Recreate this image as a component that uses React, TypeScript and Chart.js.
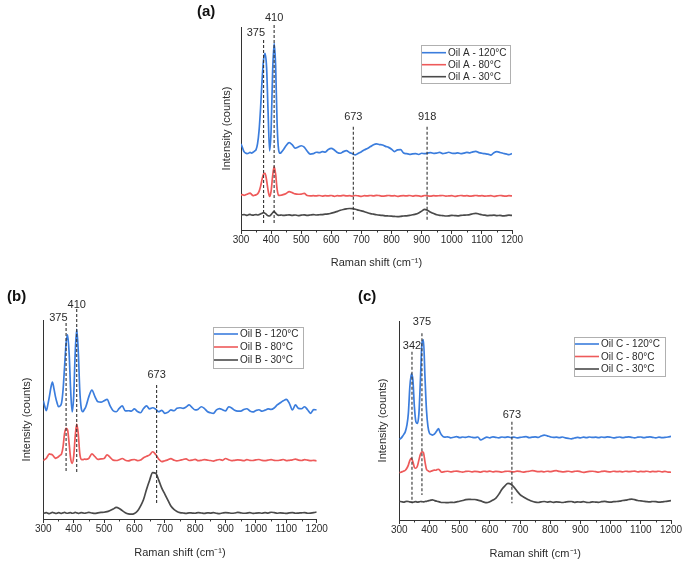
import React, { useEffect, useRef } from "react";
import { Chart, registerables } from "chart.js";

Chart.register(...registerables);

const FONT = '"Liberation Sans", Arial, Helvetica, sans-serif';
const TEXT = "#2b2b2b";
const AXIS = "#333333";
const BLUE = "#3b7ddd";
const RED = "#ee5a5a";
const DARK = "#4a4a4a";

// Raman shift (cm-1) sample positions shared by all spectra
const RAMAN_SHIFT = [
  300, 305, 310, 315, 320, 325, 330, 335, 340, 345, 350, 355, 360, 365, 370, 375, 380, 385, 390, 395, 400, 405, 410, 415, 420, 425, 430, 435, 440,
  450, 460, 470, 480, 490, 500, 510, 520, 530, 540,
  550, 560, 570, 580, 590, 600, 610, 620, 630, 640,
  650, 660, 670, 680, 690, 700, 710, 720, 730, 740,
  750, 760, 770, 780, 790, 800, 810, 820, 830, 840,
  850, 860, 870, 880, 890, 900, 910, 920, 930, 940,
  950, 960, 970, 980, 990, 1000, 1010, 1020, 1030, 1040,
  1050, 1060, 1070, 1080, 1090, 1100, 1110, 1120, 1130, 1140,
  1150, 1160, 1170, 1180, 1190, 1200,
];

const X_TICKS = [300, 400, 500, 600, 700, 800, 900, 1000, 1100, 1200];
const X_MINOR_TICKS = [350, 450, 550, 650, 750, 850, 950, 1050, 1150];

// ---------- Oil A ----------
const OIL_A_120 = [
  42.4, 40.5, 38.6, 37.9, 37.6, 37.8, 38.2, 37.9, 38.3, 38.9, 39.6, 42.5, 49.0, 60.0, 74.0, 84.0, 87.0, 80.0, 58.0, 39.0, 49.0, 78.0, 92.0, 81.0, 52.0, 39.5, 37.8, 38.5, 39.4,
  41.6, 43.0, 42.0, 40.3, 40.9, 41.5, 40.8, 38.8, 37.4, 37.6,
  38.3, 38.1, 38.6, 38.4, 39.7, 40.2, 39.4, 38.2, 37.8, 38.6,
  39.1, 38.2, 37.6, 37.0, 37.8, 38.6, 39.5, 40.2, 41.1, 42.0,
  42.4, 42.1, 41.9, 41.2, 40.7, 39.8, 38.6, 39.5, 39.6, 37.9,
  37.6, 37.3, 37.5, 37.6, 37.2, 37.8, 37.6, 37.9, 38.1, 37.7,
  37.9, 38.2, 37.6, 37.9, 38.3, 37.8, 37.7, 38.0, 37.6, 37.9,
  38.2, 38.0, 38.5, 38.7, 38.1, 37.8, 37.6, 37.4, 36.9, 38.1,
  38.6, 38.2, 37.8, 37.5, 37.1, 37.6,
];
const OIL_A_80 = [
  17.2, 17.4, 17.1, 17.3, 17.6, 18.0, 18.2, 17.6, 16.9, 17.1, 17.3, 17.8, 19.0, 21.5, 25.0, 27.6, 27.9, 24.5, 19.5, 16.5, 19.2, 26.5, 31.2, 27.5, 20.0, 17.0, 17.1, 17.2, 17.4,
  18.0, 18.9, 18.4, 17.8, 17.6, 17.7, 18.0, 17.0, 16.8, 16.9,
  16.8, 17.0, 16.7, 16.9, 16.8, 17.0, 16.6, 16.9, 16.8, 17.1,
  16.8, 16.9, 16.7, 17.0, 16.8, 16.6, 16.9, 16.8, 17.0, 16.8,
  17.1, 16.9, 16.7, 16.8, 17.0, 16.8, 16.9, 16.6, 16.8, 16.9,
  16.8, 17.0, 16.7, 16.9, 16.8, 16.6, 17.0, 16.8, 16.7, 16.9,
  16.8, 16.9, 17.0, 16.7, 16.8, 16.9, 16.6, 16.8, 17.0, 16.8,
  16.9, 16.7, 16.8, 17.0, 16.8, 16.9, 16.7, 16.8, 16.9, 16.6,
  16.8, 17.0, 16.8, 16.7, 16.9, 16.8,
];
const OIL_A_30 = [
  7.3, 7.5, 7.6, 7.4, 7.2, 7.5, 7.7, 7.4, 7.3, 7.5, 7.6, 7.4, 7.6, 7.9, 8.3, 8.6, 8.2, 7.6, 7.0, 6.9, 7.6, 8.5, 9.1, 8.3, 7.6, 7.2, 7.3, 7.4, 7.2,
  7.3, 7.5, 7.2, 7.4, 7.1, 7.3, 7.5, 7.2, 7.4, 7.6,
  7.4, 7.5, 7.6, 7.8, 7.9, 8.3, 8.7, 9.2, 9.7, 10.1,
  10.4, 10.6, 10.5, 10.2, 9.8, 9.4, 9.0, 8.5, 8.1, 7.8,
  7.5, 7.3, 7.2, 7.0, 6.9, 6.8, 6.7, 6.6, 6.7, 6.9,
  7.0, 7.2, 7.5, 7.8, 8.4, 9.3, 10.2, 9.6, 8.8, 8.1,
  7.5, 7.2, 7.1, 6.9, 7.0, 7.2, 7.1, 7.0, 7.2, 7.3,
  7.4, 7.6, 8.0, 8.2, 7.9, 7.5, 7.3, 7.1, 7.2, 7.3,
  7.1, 7.2, 7.0, 7.1, 7.3, 7.2,
];

// ---------- Oil B ----------
const OIL_B_120 = [
  59.5, 56.5, 54.5, 57.5, 61.5, 66.0, 68.8, 65.5, 61.5, 58.5, 56.5, 56.8, 58.2, 64.8, 76.5, 88.3, 92.5, 83.4, 64.8, 53.9, 61.5, 83.3, 95.3, 84.9, 64.8, 55.6, 53.9, 55.0, 56.4,
  61.5, 64.8, 61.5, 58.9, 58.7, 59.4, 60.1, 56.8, 54.4, 53.9,
  55.6, 56.8, 54.3, 54.4, 54.2, 55.3, 54.0, 53.4, 55.5, 56.8,
  55.3, 55.9, 55.2, 53.9, 54.6, 53.1, 53.6, 54.8, 54.4, 55.6,
  55.9, 55.6, 56.3, 57.3, 56.0, 54.8, 55.2, 56.4, 55.6, 54.0,
  53.4, 53.1, 54.8, 55.5, 54.9, 54.3, 56.4, 55.8, 54.6, 54.2,
  54.2, 55.0, 55.4, 54.3, 53.8, 54.5, 54.9, 54.2, 54.7, 55.3,
  55.1, 55.8, 57.3, 58.4, 59.4, 60.1, 58.1, 54.8, 57.3, 55.6,
  55.4, 56.4, 54.9, 53.1, 55.0, 54.8,
];
const OIL_B_80 = [
  29.3, 30.0, 30.5, 31.8, 32.7, 32.5, 32.2, 31.3, 30.5, 30.8, 31.3, 32.0, 32.7, 36.3, 43.0, 45.6, 44.7, 38.0, 30.5, 28.0, 31.3, 41.4, 47.7, 43.0, 33.0, 30.0, 29.8, 30.1, 30.0,
  30.5, 32.7, 31.3, 30.0, 30.2, 30.4, 32.2, 31.0, 29.6, 29.4,
  29.8, 30.4, 29.5, 29.2, 29.7, 29.9, 29.3, 29.6, 30.8, 31.5,
  32.2, 33.8, 32.4, 30.1, 28.8, 29.3, 29.7, 30.3, 29.6, 29.2,
  29.5, 29.9, 30.2, 29.4, 29.6, 30.0, 29.3, 29.5, 29.8, 29.6,
  29.4, 29.1, 29.6, 29.9, 29.5, 30.4, 29.8, 29.3, 29.5, 29.7,
  29.6, 29.3, 29.8, 29.5, 29.4, 29.7, 29.9, 29.5, 29.3, 29.6,
  29.8, 29.5, 29.4, 29.6, 29.9, 29.3, 29.5, 29.7, 30.1, 29.6,
  29.4, 29.8, 29.6, 29.3, 29.5, 29.2,
];
const OIL_B_30 = [
  2.8, 3.0, 3.2, 2.9, 2.7, 3.0, 3.3, 3.1, 2.8, 2.9, 3.2, 3.0, 2.8, 3.1, 3.3, 3.0, 2.9, 3.1, 3.2, 2.9, 3.0, 3.3, 3.1, 2.8, 3.0, 3.2, 3.1, 2.9, 3.0,
  3.3, 3.0, 2.8, 3.1, 3.3, 3.4, 3.7, 4.3, 5.0, 5.8,
  5.3, 4.2, 3.2, 2.6, 2.4, 2.8, 4.0, 6.5, 9.8, 15.0,
  19.5, 23.3, 23.0, 19.5, 15.5, 12.5, 9.5, 6.5, 4.8, 3.8,
  3.2, 3.0, 2.8, 3.1, 3.0, 2.9, 3.2, 3.0, 2.8, 3.1,
  3.0, 3.2, 2.9, 2.7, 3.0, 3.2, 3.1, 2.9, 3.0, 3.3,
  3.1, 2.9, 3.0, 3.2, 2.8, 3.0, 3.1, 2.9, 3.2, 3.0,
  3.4, 3.2, 2.9, 3.1, 3.0, 2.8, 3.1, 3.2, 2.9, 3.0,
  3.1, 3.2, 2.9, 3.0, 3.2, 3.5,
];

// ---------- Oil C ----------
const OIL_C_120 = [
  40.5, 41.0, 41.9, 43.0, 44.4, 47.5, 53.6, 67.0, 73.4, 70.4, 56.9, 49.4, 48.6, 53.6, 70.4, 88.8, 90.5, 72.0, 55.3, 46.9, 43.6, 43.0, 42.7, 43.0, 43.9, 45.0, 45.9, 44.0, 42.7,
  41.6, 41.8, 41.3, 41.6, 41.9, 41.4, 41.7, 41.5, 41.9, 41.6,
  41.4, 41.7, 40.2, 41.0, 41.6, 41.3, 41.8, 41.5, 41.3, 41.7,
  41.5, 41.8, 41.4, 41.6, 41.3, 41.5, 41.7, 41.9, 41.4, 41.6,
  41.8, 41.5, 42.2, 42.7, 42.3, 41.8, 41.5, 41.6, 41.4, 41.7,
  41.3, 41.0, 40.8, 41.2, 41.5, 41.3, 41.6, 41.4, 41.7, 41.5,
  41.6, 41.4, 41.7, 41.5, 41.8, 41.6, 41.3, 41.5, 41.7, 41.4,
  41.6, 41.8, 41.5, 41.3, 41.6, 41.7, 41.4, 41.6, 41.8, 41.5,
  41.3, 41.6, 41.4, 41.5, 41.7, 42.0,
];
const OIL_C_80 = [
  23.8, 24.0, 24.3, 24.6, 25.0, 26.0, 27.6, 30.0, 31.0, 29.3, 26.5, 26.0, 27.1, 30.2, 33.0, 34.3, 33.8, 29.3, 25.5, 24.8, 24.3, 24.5, 24.8, 25.1, 25.0, 25.3, 25.5, 24.8, 24.0,
  24.3, 24.5, 24.2, 24.4, 24.6, 24.3, 24.1, 24.4, 24.5, 24.2,
  24.4, 24.3, 24.1, 24.5, 24.3, 24.6, 24.2, 24.4, 24.3, 24.1,
  24.4, 24.5, 24.3, 24.2, 24.6, 24.4, 24.1, 24.3, 24.5, 24.8,
  24.6, 24.3, 24.4, 24.2, 24.5, 24.3, 24.6, 24.8, 24.4, 24.2,
  24.3, 24.5, 24.2, 24.4, 24.6, 24.3, 23.9, 24.2, 24.4, 24.5,
  24.3, 24.1, 24.4, 24.6, 24.3, 24.2, 24.5, 24.3, 24.4, 24.2,
  24.5, 24.3, 24.4, 24.6, 24.2, 24.4, 24.3, 24.5, 24.2, 24.4,
  24.3, 24.5, 24.2, 24.4, 24.1, 24.0,
];
const OIL_C_30 = [
  9.2, 9.3, 9.1, 9.0, 9.2, 9.4, 9.3, 9.1, 9.0, 8.9, 9.1, 9.2, 9.0, 9.1, 9.3, 9.2, 9.1, 9.3, 9.4, 9.6, 9.8, 10.0, 10.1, 9.9, 9.6, 9.4, 9.2, 9.0, 8.8,
  8.8, 8.7, 8.9, 8.8, 9.1, 9.4, 9.8, 10.2, 10.4, 10.3,
  10.3, 10.0, 9.6, 9.0, 8.7, 9.2, 10.0, 11.0, 13.0, 15.5,
  17.2, 18.4, 18.0, 16.5, 14.5, 12.8, 11.7, 10.8, 10.0, 9.4,
  9.0, 8.8, 9.1, 9.3, 9.0, 9.2, 8.9, 9.1, 9.0, 8.8,
  9.0, 9.2, 9.3, 8.9, 9.1, 9.0, 9.2, 8.9, 8.8, 9.1,
  9.0, 8.9, 9.2, 9.4, 9.1, 9.0, 9.2, 9.3, 9.5, 9.8,
  10.0, 10.3, 10.5, 10.2, 9.8, 9.6, 9.4, 9.2, 9.1, 9.3,
  9.2, 9.0, 9.1, 9.3, 9.5, 9.7,
];

const LABELS_A = ["Oil A - 120°C", "Oil A - 80°C", "Oil A - 30°C"];
const LABELS_B = ["Oil B - 120°C", "Oil B - 80°C", "Oil B - 30°C"];
const LABELS_C = ["Oil C - 120°C", "Oil C - 80°C", "Oil C - 30°C"];

// Marked band positions (cm-1) and the extent of their dashed guides (intensity units)
const MARKS_A = [375, 410, 673, 918];
const MARK_TOP_A = [93.6, 101, 50.9, 50.9];
const MARK_BOTTOM_A = [2.5, 2.5, 4.9, 4.9];
const MARK_LABEL_Y_A = [97, 104.4, 55.7, 55.7];

const MARKS_B = [375, 410, 673];
const MARK_TOP_B = [98.5, 105.5, 67.3];
const MARK_BOTTOM_B = [23.6, 23.6, 7];
const MARK_LABEL_Y_B = [101, 107.5, 72.4];

const MARKS_C = [342, 375, 673];
const MARK_TOP_C = [84.6, 93.8, 49.4];
const MARK_BOTTOM_C = [8.4, 12.6, 8.4];
const MARK_LABEL_Y_C = [87.4, 99.5, 52.8];

type PanelCfg = {
  left: number; top: number; width: number; height: number;
  pad: { left: number; top: number; right: number; bottom: number };
  yWidth: number; xHeight: number;
  letter: string; letterX: number; letterY: number;
  series: number[][]; labels: string[];
  marks: number[]; markTop: number[]; markBottom: number[]; markLabelY: number[];
  markAlign: string[];
  legend: { x: number; y: number; w: number; h: number; rowH: number; first: number };
};

const PANELS: PanelCfg[] = [
  {
    left: 180, top: 0, width: 360, height: 275,
    pad: { left: 40, top: 27, right: 28, bottom: 5.4 },
    yWidth: 21, xHeight: 39.6,
    letter: "(a)", letterX: 17, letterY: 12,
    series: [OIL_A_120, OIL_A_80, OIL_A_30], labels: LABELS_A,
    marks: MARKS_A, markTop: MARK_TOP_A, markBottom: MARK_BOTTOM_A, markLabelY: MARK_LABEL_Y_A,
    markAlign: ["left", "center", "center", "center"],
    legend: { x: 241, y: 45, w: 89, h: 38, rowH: 12, first: 7.7 },
  },
  {
    left: 0, top: 278, width: 340, height: 283,
    pad: { left: 20, top: 42, right: 23.3, bottom: 1.4 },
    yWidth: 23.3, xHeight: 40.6,
    letter: "(b)", letterX: 7, letterY: 19,
    series: [OIL_B_120, OIL_B_80, OIL_B_30], labels: LABELS_B,
    marks: MARKS_B, markTop: MARK_TOP_B, markBottom: MARK_BOTTOM_B, markLabelY: MARK_LABEL_Y_B,
    markAlign: ["left", "center", "center"],
    legend: { x: 213, y: 49, w: 90, h: 41, rowH: 13, first: 7 },
  },
  {
    left: 342, top: 278, width: 343, height: 283,
    pad: { left: 34, top: 43, right: 14, bottom: 0.4 },
    yWidth: 23.3, xHeight: 40.6,
    letter: "(c)", letterX: 16, letterY: 19,
    series: [OIL_C_120, OIL_C_80, OIL_C_30], labels: LABELS_C,
    marks: MARKS_C, markTop: MARK_TOP_C, markBottom: MARK_BOTTOM_C, markLabelY: MARK_LABEL_Y_C,
    markAlign: ["center", "center", "center"],
    legend: { x: 232, y: 59, w: 91, h: 39, rowH: 12.5, first: 7 },
  },
];

const COLORS = [BLUE, RED, DARK];

const decoPlugin = {
  id: "panelDeco",
  afterDraw(chart: any, _args: any, opts: any) {
    const { ctx, chartArea } = chart;
    const xs = chart.scales.x;
    const ys = chart.scales.y;
    const cfg: PanelCfg = opts.cfg;
    ctx.save();
    // minor ticks
    ctx.strokeStyle = AXIS;
    ctx.lineWidth = 1;
    for (const v of X_MINOR_TICKS) {
      const px = Math.round(xs.getPixelForValue(v)) + 0.5;
      ctx.beginPath();
      ctx.moveTo(px, chartArea.bottom);
      ctx.lineTo(px, chartArea.bottom + 2.5);
      ctx.stroke();
    }
    // band labels
    ctx.fillStyle = TEXT;
    ctx.font = `11px ${FONT}`;
    ctx.textBaseline = "middle";
    cfg.marks.forEach((m, i) => {
      const px = xs.getPixelForValue(m);
      const py = ys.getPixelForValue(cfg.markLabelY[i]);
      if (cfg.markAlign[i] === "left") {
        ctx.textAlign = "right";
        ctx.fillText(String(m), px + 1.5, py);
      } else {
        ctx.textAlign = "center";
        ctx.fillText(String(m), px, py);
      }
    });
    // panel letter
    ctx.font = `bold 15px ${FONT}`;
    ctx.textAlign = "left";
    ctx.fillStyle = "#111";
    ctx.fillText(cfg.letter, cfg.letterX, cfg.letterY);
    // legend
    const L = cfg.legend;
    ctx.strokeStyle = "#b0b0b0";
    ctx.lineWidth = 1;
    ctx.strokeRect(Math.round(L.x) + 0.5, Math.round(L.y) + 0.5, L.w, L.h);
    ctx.font = `10px ${FONT}`;
    cfg.labels.forEach((lab, i) => {
      const cy = L.y + L.first + i * L.rowH;
      ctx.strokeStyle = COLORS[i];
      ctx.lineWidth = 1.6;
      ctx.beginPath();
      ctx.moveTo(L.x + 1, cy);
      ctx.lineTo(L.x + 25, cy);
      ctx.stroke();
      ctx.fillStyle = TEXT;
      ctx.textAlign = "left";
      ctx.fillText(lab, L.x + 27, cy + 0.5);
    });
    ctx.restore();
  },
};

function Panel({ cfg }: { cfg: PanelCfg }) {
  const ref = useRef<HTMLCanvasElement | null>(null);
  useEffect(() => {
    if (!ref.current) return;
    const spectra = cfg.series.map((arr, si) => ({
      type: "line" as const,
      label: cfg.labels[si],
      data: RAMAN_SHIFT.map((x, i) => ({ x, y: arr[i] })),
      borderColor: COLORS[si],
      borderWidth: 1.7,
      pointRadius: 0,
      cubicInterpolationMode: "monotone" as const,
      fill: false,
      order: 2,
    }));
    const guides = cfg.marks.map((m, i) => ({
      type: "line" as const,
      label: "guide " + m,
      data: [
        { x: m, y: cfg.markTop[i] },
        { x: m, y: cfg.markBottom[i] },
      ],
      borderColor: "#333",
      borderWidth: 1.1,
      borderDash: [3, 2],
      pointRadius: 0,
      fill: false,
      clip: false as any,
      order: 1,
    }));
    const chart = new Chart(ref.current, {
      type: "line",
      data: { datasets: [...spectra, ...guides] as any },
      options: {
        animation: false,
        responsive: false,
        devicePixelRatio: 1,
        events: [],
        layout: { padding: cfg.pad },
        plugins: {
          legend: { display: false },
          tooltip: { enabled: false },
          panelDeco: { cfg },
        } as any,
        scales: {
          x: {
            type: "linear",
            min: 300,
            max: 1200,
            afterBuildTicks: (scale: any) => {
              scale.ticks = X_TICKS.map((v) => ({ value: v }));
            },
            afterFit: (scale: any) => {
              scale.height = cfg.xHeight;
            },
            ticks: {
              autoSkip: false,
              maxRotation: 0,
              padding: 1,
              color: TEXT,
              font: { family: FONT, size: 10, lineHeight: 1 },
              callback: (v: any) => String(v),
            },
            grid: { drawOnChartArea: false, drawTicks: true, tickLength: 4, color: AXIS },
            border: { display: true, color: AXIS, width: 1 },
            title: {
              display: true,
              text: "Raman shift (cm⁻¹)",
              color: TEXT,
              padding: 0,
              font: { family: FONT, size: 11 },
            },
          },
          y: {
            type: "linear",
            min: 0,
            max: 100,
            afterFit: (scale: any) => {
              scale.width = cfg.yWidth;
            },
            ticks: { display: false },
            grid: { drawOnChartArea: false, drawTicks: false },
            border: { display: true, color: AXIS, width: 1 },
            title: {
              display: true,
              text: "Intensity (counts)",
              color: TEXT,
              padding: 0,
              font: { family: FONT, size: 11 },
            },
          },
        },
      } as any,
      plugins: [decoPlugin],
    });
    return () => chart.destroy();
  }, [cfg]);
  return (
    <canvas
      ref={ref}
      width={cfg.width}
      height={cfg.height}
      style={{ position: "absolute", left: cfg.left, top: cfg.top, width: cfg.width, height: cfg.height }}
    />
  );
}

export default function App() {
  return (
    <div style={{ position: "fixed", left: 0, top: 0, width: 685, height: 561, background: "#fff", overflow: "hidden" }}>
      {PANELS.map((p) => (
        <Panel key={p.letter} cfg={p} />
      ))}
    </div>
  );
}
